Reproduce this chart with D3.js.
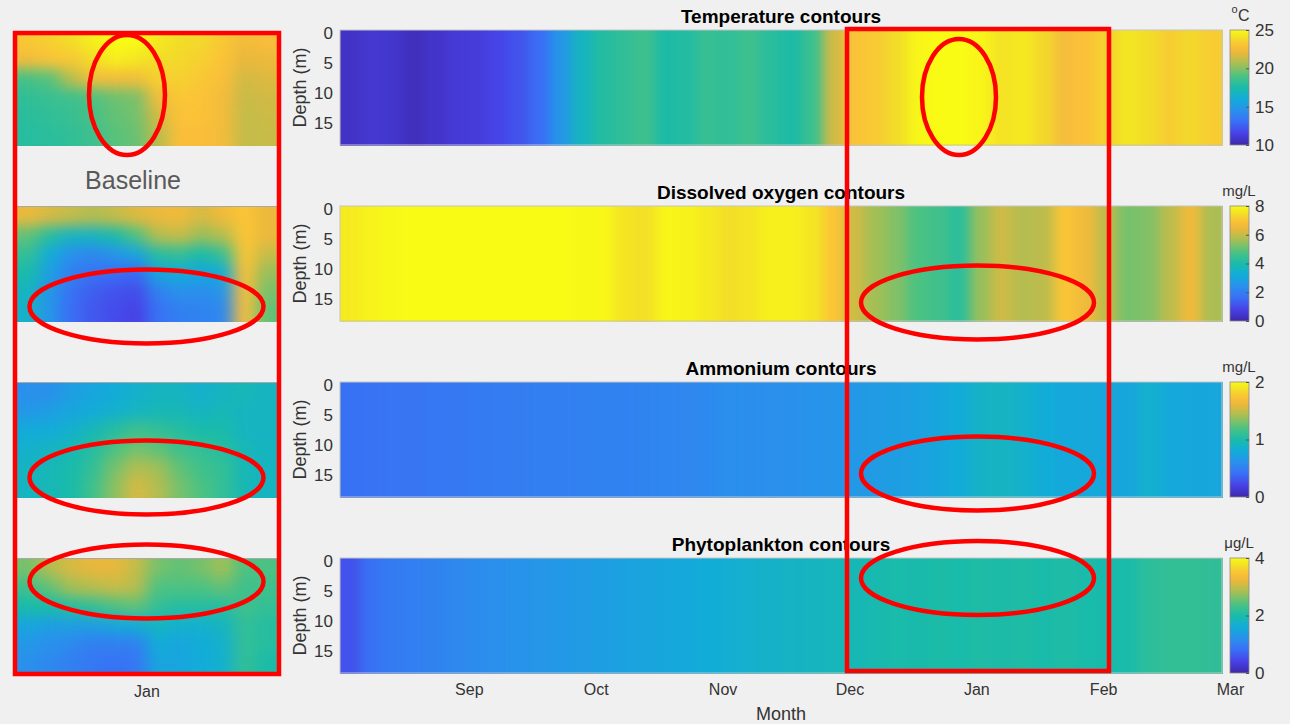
<!DOCTYPE html>
<html>
<head>
<meta charset="utf-8">
<script src="https://cdn.jsdelivr.net/npm/d3@7"></script>
<style>
  body { margin: 0; background: #f0f0f0; }
  svg { display: block; font-family: "Liberation Sans", Arial, sans-serif; }
</style>
</head>
<body>
<div id="main"></div>
<script>
// month ticks (Aug is the start of the record, not labelled)
const months = ['Aug', 'Sep', 'Oct', 'Nov', 'Dec', 'Jan', 'Feb', 'Mar'];
const depthTicks = [0, 5, 10, 15];

// main panels: one value per time column, Aug -> end of Feb
const tempCols = [10.7, 11.0, 10.9, 10.5, 10.8, 11.1, 11.2, 11.6, 12.1, 13.0, 14.8, 16.8, 17.8, 18.2,
  18.6, 17.6, 17.8, 18.4, 18.2, 18.6, 18.0, 17.6, 18.5, 21.5, 23.0, 23.3, 24.0, 24.8,
  25.0, 25.0, 24.8, 24.2, 24.4, 23.8, 22.6, 23.0, 23.6, 24.3, 24.0, 23.4, 23.8, 23.4];
const oxyCols = [7.7, 7.85, 7.95, 8.0, 8.0, 8.0, 8.0, 8.0, 8.0, 8.0, 8.0, 7.95, 7.95, 7.6,
  7.5, 7.9, 7.85, 7.7, 7.5, 7.6, 7.8, 7.8, 7.6, 7.0, 6.1, 5.6, 5.3, 4.8,
  4.6, 4.3, 5.5, 6.1, 5.8, 5.9, 7.0, 6.6, 5.9, 5.2, 5.3, 5.9, 6.6, 5.7];
const nh4Cols = [0.42, 0.43, 0.44, 0.44, 0.45, 0.46, 0.47, 0.48, 0.49, 0.50, 0.50, 0.51, 0.52, 0.52,
  0.53, 0.54, 0.55, 0.56, 0.60, 0.59, 0.60, 0.61, 0.62, 0.63, 0.66, 0.68, 0.70, 0.72,
  0.76, 0.80, 0.88, 0.90, 0.86, 0.80, 0.78, 0.77, 0.76, 0.76, 0.85, 0.78, 0.76, 0.76];
const phyCols = [0.55, 0.85, 0.95, 1.00, 1.05, 1.10, 1.15, 1.20, 1.25, 1.28, 1.32, 1.36, 1.40, 1.44,
  1.48, 1.52, 1.56, 1.60, 1.65, 1.70, 1.74, 1.78, 1.82, 1.86, 1.90, 1.95, 2.00, 1.98,
  2.02, 2.00, 2.05, 2.02, 2.05, 2.00, 2.05, 2.00, 1.98, 2.00, 2.15, 2.20, 2.20, 2.18];

// baseline run around Jan, rows = depth layers from surface to bottom
const tempBase = [
  [23.2, 23.5, 24.0, 24.6, 25.0, 25.0, 24.4, 24.0, 23.8, 23.2, 22.5, 22.8],
  [22.5, 23.0, 23.2, 24.0, 24.6, 24.3, 24.0, 23.8, 23.5, 23.0, 22.0, 22.2],
  [18.8, 19.2, 21.0, 22.5, 22.5, 22.5, 23.5, 23.5, 23.2, 22.8, 21.5, 21.8],
  [18.2, 18.4, 18.6, 19.0, 19.6, 19.8, 22.5, 23.2, 23.0, 22.5, 21.3, 21.5],
  [18.0, 18.2, 18.4, 18.8, 19.4, 19.7, 21.5, 23.0, 23.0, 22.5, 21.2, 21.4],
  [17.9, 18.0, 18.2, 18.6, 19.2, 19.5, 21.0, 22.8, 22.8, 22.5, 21.2, 21.3]];
const oxyBase = [
  [6.5, 6.2, 6.0, 5.8, 6.0, 6.3, 6.5, 6.6, 6.2, 6.6, 7.0, 6.5],
  [5.0, 4.2, 3.6, 3.6, 4.0, 4.8, 5.8, 6.0, 5.5, 5.8, 7.0, 6.5],
  [4.4, 3.2, 2.4, 2.2, 2.5, 3.0, 4.2, 4.4, 4.0, 4.5, 7.0, 6.0],
  [4.0, 2.8, 2.0, 1.7, 1.6, 1.5, 3.0, 3.2, 3.0, 3.2, 6.8, 5.5],
  [3.6, 2.6, 1.7, 1.3, 1.1, 1.0, 2.0, 2.4, 2.3, 2.5, 6.8, 5.2],
  [3.5, 2.5, 1.6, 1.2, 1.0, 0.8, 1.7, 2.0, 2.1, 2.2, 6.8, 5.0]];
const nh4Base = [
  [0.60, 0.60, 0.70, 0.75, 0.80, 0.85, 0.90, 0.90, 0.85, 0.90, 0.95, 0.90],
  [0.65, 0.70, 0.75, 0.80, 0.85, 0.90, 0.95, 0.95, 0.90, 0.95, 0.90, 0.90],
  [0.80, 0.80, 0.85, 0.95, 1.05, 1.15, 1.10, 1.05, 1.00, 1.00, 0.90, 0.90],
  [0.85, 0.90, 0.95, 1.05, 1.20, 1.30, 1.25, 1.15, 1.10, 1.05, 0.95, 0.90],
  [0.90, 0.95, 1.00, 1.10, 1.30, 1.45, 1.40, 1.25, 1.15, 1.10, 0.95, 0.90],
  [0.90, 0.95, 1.00, 1.15, 1.35, 1.55, 1.45, 1.30, 1.20, 1.10, 0.95, 0.90]];
const phyBase = [
  [2.6, 2.9, 3.1, 3.2, 3.2, 3.0, 2.6, 2.5, 2.6, 2.8, 2.4, 2.4],
  [2.3, 2.5, 2.8, 2.9, 3.0, 2.9, 2.4, 2.4, 2.4, 2.5, 2.3, 2.3],
  [2.0, 2.0, 2.1, 2.2, 2.4, 2.5, 2.2, 2.1, 2.1, 2.1, 2.3, 2.2],
  [1.5, 1.4, 1.4, 1.4, 1.5, 1.6, 1.8, 1.7, 1.7, 1.8, 2.2, 2.1],
  [1.3, 1.2, 1.1, 1.0, 1.0, 1.0, 1.6, 1.5, 1.6, 1.7, 2.2, 2.1],
  [1.2, 1.1, 1.0, 0.9, 0.85, 0.9, 1.5, 1.5, 1.6, 1.7, 2.2, 2.0]];

// matlab parula, approximated
const parulaStops = [0, .1, .2, .3, .4, .5, .6, .7, .8, .86, .93, 1];
const parulaColors = ['#3e26a8', '#4741e6', '#3a6ef5', '#2a90ec', '#12acd8', '#19bbaa',
  '#4cc282', '#a2bf56', '#e8b83c', '#fcbf3a', '#f2dc29', '#f9fb15'];
const parula = d3.scaleLinear().domain(parulaStops).range(parulaColors).interpolate(d3.interpolateRgb);

class Contorno {
  constructor(svg, config) {
    this.svg = svg;
    this.config = config;
    this.g = svg.append('g');
    this.xScale = null;
    this.yScale = null;
    this.colScale = null;
  }

  createScales() {
    const c = this.config;
    this.xScale = d3.scaleBand().domain(d3.range(c.rows[0].length)).range([c.left, c.left + c.width]);
    this.yScale = d3.scaleBand().domain(d3.range(c.rows.length)).range([c.top, c.top + c.height]);
    this.colScale = d3.scaleSequential(parula).domain(c.range);
  }

  createCells() {
    const cells = this.config.rows.flatMap((row, r) => row.map((v, k) => ({ r, k, v })));
    this.g.append('g')
      .attr('filter', `url(#${this.config.blur})`)
      .selectAll('rect')
      .data(cells)
      .join('rect')
      .attr('x', d => this.xScale(d.k))
      .attr('y', d => this.yScale(d.r))
      .attr('width', this.xScale.bandwidth() + 0.4)
      .attr('height', this.yScale.bandwidth() + 0.4)
      .attr('fill', d => this.colScale(d.v));
  }

  createFrame() {
    const c = this.config;
    this.g.append('rect')
      .attr('x', c.left).attr('y', c.top)
      .attr('width', c.width).attr('height', c.height)
      .attr('fill', 'none').attr('stroke', '#c4c4c4').attr('stroke-width', 1);
  }

  createDepthAxis() {
    const c = this.config;
    const depth = d3.scaleLinear().domain([-0.5, 18.7]).range([c.top, c.top + c.height]);
    const ax = this.g.append('g')
      .attr('transform', `translate(${c.left},0)`)
      .call(d3.axisLeft(depth).tickValues(depthTicks).tickSize(0).tickPadding(7));
    ax.select('.domain').remove();
    ax.selectAll('text').attr('font-size', 17).attr('fill', '#333').attr('font-family', null);

    this.g.append('text')
      .attr('transform', `translate(${c.left - 34},${c.top + c.height / 2}) rotate(-90)`)
      .attr('text-anchor', 'middle')
      .attr('font-size', 18).attr('fill', '#333')
      .text('Depth (m)');
  }

  createTitle() {
    const c = this.config;
    this.g.append('text')
      .attr('x', c.left + c.width / 2).attr('y', c.top - 7)
      .attr('text-anchor', 'middle')
      .attr('font-size', 19).attr('font-weight', 'bold').attr('fill', '#000')
      .text(c.title);
  }

  createColorbar() {
    const c = this.config;
    const cbX = 1230, cbW = 19;
    const cb = d3.scaleLinear().domain(c.range).range([c.top + c.height, c.top]);
    this.g.append('rect')
      .attr('x', cbX).attr('y', c.top)
      .attr('width', cbW).attr('height', c.height)
      .attr('fill', 'url(#parulaGrad)')
      .attr('stroke', '#8a8a8a').attr('stroke-width', 0.8);
    const ax = this.g.append('g')
      .attr('transform', `translate(${cbX + cbW},0)`)
      .call(d3.axisRight(cb).tickValues(c.cbTicks).tickFormat(d3.format('d')).tickSize(-3).tickPadding(6));
    ax.select('.domain').remove();
    ax.selectAll('line').attr('stroke', '#555');
    ax.selectAll('text').attr('font-size', 17).attr('fill', '#333').attr('font-family', null);

    if (c.unit === 'oC') {
      this.g.append('text').attr('x', 1234.5).attr('y', 13).attr('text-anchor', 'middle')
        .attr('font-size', 11).attr('fill', '#333').text('o');
      this.g.append('text').attr('x', 1238).attr('y', 21)
        .attr('font-size', 16).attr('fill', '#333').text('C');
    } else {
      this.g.append('text').attr('x', 1239).attr('y', c.top - 10).attr('text-anchor', 'middle')
        .attr('font-size', 15).attr('fill', '#333').text(c.unit);
    }
  }
}

function main() {
  const W = 1290, H = 724;
  const svg = d3.select('#main').append('svg').attr('width', W).attr('height', H);
  svg.append('rect').attr('width', W).attr('height', H).attr('fill', '#f0f0f0');

  const defs = svg.append('defs');
  const addBlur = (id, sd) => {
    const f = defs.append('filter').attr('id', id)
      .attr('x', 0).attr('y', 0).attr('width', 1).attr('height', 1)
      .attr('color-interpolation-filters', 'sRGB');
    f.append('feGaussianBlur').attr('stdDeviation', sd);
    f.append('feComponentTransfer').append('feFuncA').attr('type', 'linear').attr('slope', 60);
  };
  addBlur('blurMain', '6 0');
  addBlur('blurBase', '8 7');

  const grad = defs.append('linearGradient').attr('id', 'parulaGrad')
    .attr('x1', 0).attr('y1', 1).attr('x2', 0).attr('y2', 0);
  d3.range(0, 1.0001, 0.05).forEach(t => {
    grad.append('stop').attr('offset', t).attr('stop-color', parula(t));
  });

  const panels = [
    { title: 'Temperature contours', unit: 'oC', cols: tempCols, base: tempBase, range: [10, 25], cbTicks: [10, 15, 20, 25], top: 30 },
    { title: 'Dissolved oxygen contours', unit: 'mg/L', cols: oxyCols, base: oxyBase, range: [0, 8], cbTicks: [0, 2, 4, 6, 8], top: 206 },
    { title: 'Ammonium contours', unit: 'mg/L', cols: nh4Cols, base: nh4Base, range: [0, 2], cbTicks: [0, 1, 2], top: 382 },
    { title: 'Phytoplankton contours', unit: '\u03bcg/L', cols: phyCols, base: phyBase, range: [0, 4], cbTicks: [0, 2, 4], top: 558 }
  ];

  panels.forEach((p, i) => {
    const m = new Contorno(svg, {
      rows: [p.cols], range: p.range, title: p.title, unit: p.unit, cbTicks: p.cbTicks,
      left: 340, width: 882, top: p.top, height: 115, blur: 'blurMain'
    });
    m.createScales();
    m.createCells();
    m.createFrame();
    m.createDepthAxis();
    m.createTitle();
    m.createColorbar();

    const t = new Contorno(svg, {
      rows: p.base, range: p.range,
      left: 17, width: 260, top: i === 0 ? 31 : p.top + 1, height: 114, blur: 'blurBase'
    });
    t.createScales();
    t.createCells();
    if (i > 0) {
      svg.append('line').attr('x1', 17).attr('x2', 277).attr('y1', p.top + 0.5).attr('y2', p.top + 0.5)
        .attr('stroke', '#a8a8a8').attr('stroke-width', 1);
    }
  });

  // month axis under the last panel
  const xMonth = d3.scaleLinear().domain([0, 7]).range([342, 1230]);
  const ax = svg.append('g')
    .attr('transform', 'translate(0,673)')
    .call(d3.axisBottom(xMonth).tickValues(d3.range(1, 8)).tickFormat(i => months[i]).tickSize(0).tickPadding(11));
  ax.select('.domain').remove();
  ax.selectAll('text').attr('font-size', 16).attr('fill', '#333').attr('font-family', null);

  svg.append('text').attr('x', 781).attr('y', 720).attr('text-anchor', 'middle')
    .attr('font-size', 18).attr('fill', '#333').text('Month');

  svg.append('text').attr('x', 147).attr('y', 697).attr('text-anchor', 'middle')
    .attr('font-size', 16).attr('fill', '#333').text(months[5]);

  svg.append('text').attr('x', 133).attr('y', 189).attr('text-anchor', 'middle')
    .attr('font-size', 25).attr('fill', '#5a5a5a').text('Baseline');

  // red highlights
  const boxes = [
    { x: 15, y: 33, w: 264, h: 641 },
    { x: 847, y: 29, w: 262, h: 642 }
  ];
  const rings = [
    { cx: 127, cy: 95, rx: 38, ry: 60 },
    { cx: 146.5, cy: 306.5, rx: 117, ry: 37 },
    { cx: 146.5, cy: 477.5, rx: 117, ry: 37 },
    { cx: 146.5, cy: 581.5, rx: 117, ry: 37 },
    { cx: 959, cy: 97, rx: 37, ry: 58 },
    { cx: 977.5, cy: 302.5, rx: 116.5, ry: 37 },
    { cx: 977.5, cy: 473.5, rx: 116.5, ry: 37 },
    { cx: 977.5, cy: 578, rx: 116.5, ry: 37 }
  ];
  const red = svg.append('g').attr('fill', 'none').attr('stroke', '#ff0000').attr('stroke-width', 4.5);
  red.selectAll('rect').data(boxes).join('rect')
    .attr('x', d => d.x).attr('y', d => d.y).attr('width', d => d.w).attr('height', d => d.h);
  red.selectAll('ellipse').data(rings).join('ellipse')
    .attr('cx', d => d.cx).attr('cy', d => d.cy).attr('rx', d => d.rx).attr('ry', d => d.ry);
}

main();
</script>
</body>
</html>
